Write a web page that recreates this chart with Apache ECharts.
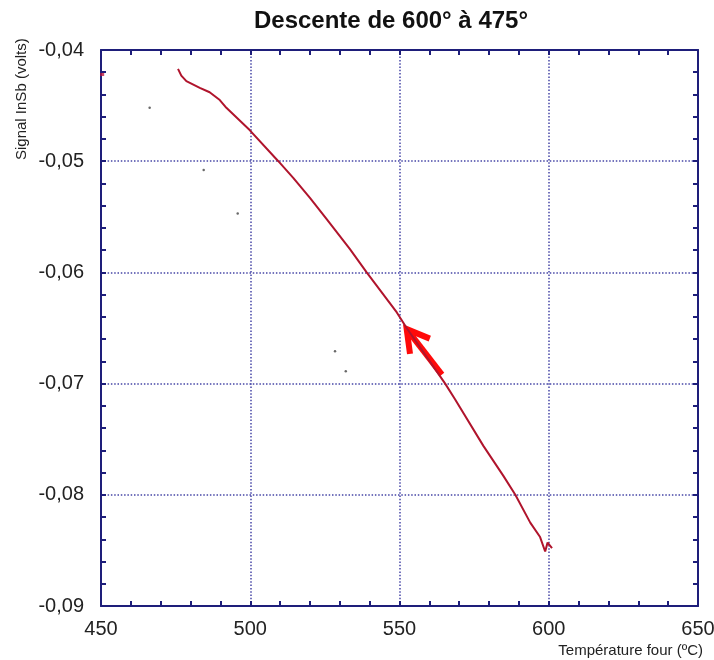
<!DOCTYPE html>
<html>
<head>
<meta charset="utf-8">
<script src="https://cdn.jsdelivr.net/npm/echarts@6/dist/echarts.min.js"></script>
<style>
  html, body { margin: 0; padding: 0; background: #ffffff; overflow: hidden; }
  #chart { width: 714px; height: 660px; }
</style>
</head>
<body>
<div id="chart"></div>
<script>
// Furnace temperature (°C) and InSb detector signal (V), cooldown from 600° to 475°
const temperature = [601.1, 599.6, 598.8, 597.1, 593.8, 588.8, 584.8, 578.1, 568.6, 565.3,
                     552.4, 549.1, 539.0, 533.4, 525.6, 520.0, 514.4, 509.4, 499.8, 492.0,
                     489.8, 486.4, 483.1, 478.6, 476.9, 475.8];
const signal = [-0.0848, -0.0843, -0.0851, -0.0838, -0.0825, -0.0800, -0.0783, -0.0756, -0.0714, -0.0700,
                -0.0650, -0.0636, -0.0600, -0.0579, -0.0552, -0.0533, -0.0515, -0.0500, -0.0472, -0.0452,
                -0.0445, -0.0438, -0.0434, -0.0428, -0.0423, -0.0417];

// isolated readings
const strayTemp = [466.3, 484.4, 495.8, 528.4, 532.0];
const straySignal = [-0.0452, -0.0508, -0.0547, -0.0671, -0.0689];
const edgeTemp = [450.4];
const edgeSignal = [-0.0422];

// annotation arrow (tail -> tip) in data units
const arrowTail = [564.2, -0.0692];
const arrowTip = [552.4, -0.0651];

// axis ranges and steps
const xRange = [450, 650];
const xStep = 50;
const yRange = [-0.09, -0.04];
const yStep = 0.01;

const titleText = 'Descente de 600° à 475°';
const xName = 'Température four (ºC)';
const yName = 'Signal InSb (volts)';

const NAVY = '#1e1e7a';
const GRIDC = '#4646a6';
const TXT = '#222222';
const FONT = "'Liberation Sans', Arial, sans-serif";

const zip = (a, b) => a.map((v, i) => [v, b[i]]);

const frameAxis = (extra) => Object.assign({
  type: 'value',
  gridIndex: 0,
  axisLine: { show: true, onZero: false, lineStyle: { color: NAVY, width: 2 } },
  axisTick: { show: true, inside: true, length: 5, lineStyle: { color: NAVY, width: 2 } },
  minorTick: { show: true, splitNumber: 5, length: 5, lineStyle: { color: NAVY, width: 2 } },
  minorSplitLine: { show: false }
}, extra);

const chart = echarts.init(document.getElementById('chart'), null, { renderer: 'canvas' });

chart.setOption({
  animation: false,
  backgroundColor: '#ffffff',
  grid: { left: 101, right: 16, top: 50, bottom: 54, containLabel: false, outerBoundsMode: 'none' },
  xAxis: [
    frameAxis({
      position: 'bottom', min: xRange[0], max: xRange[1], interval: xStep,
      splitLine: { show: true, lineStyle: { color: GRIDC, width: 1.5, type: [1.5, 1.8] } },
      axisLabel: { color: TXT, fontSize: 20, fontFamily: FONT, margin: 13 }
    }),
    frameAxis({
      position: 'top', min: xRange[0], max: xRange[1], interval: xStep,
      splitLine: { show: false }, axisLabel: { show: false }
    })
  ],
  yAxis: [
    frameAxis({
      position: 'left', min: yRange[0], max: yRange[1], interval: yStep,
      splitLine: { show: true, lineStyle: { color: GRIDC, width: 1.5, type: [1.5, 1.8] } },
      axisLabel: {
        color: TXT, fontSize: 20, fontFamily: FONT, margin: 17,
        formatter: (v) => v.toFixed(2).replace('.', ',')
      }
    }),
    frameAxis({
      position: 'right', min: yRange[0], max: yRange[1], interval: yStep,
      splitLine: { show: false }, axisLabel: { show: false }
    })
  ],
  graphic: [
    { type: 'text', x: 391, y: 9,
      style: { text: titleText, font: "bold 24px " + FONT, fill: '#111111', textAlign: 'center', textVerticalAlign: 'top' } },
    { type: 'text', x: 703, y: 643,
      style: { text: xName, font: "15px " + FONT, fill: TXT, textAlign: 'right', textVerticalAlign: 'top' } },
    { type: 'text', x: 14, y: 160, rotation: Math.PI / 2,
      style: { text: yName, font: "15px " + FONT, fill: TXT, textAlign: 'left', textVerticalAlign: 'top' } }
  ],
  series: [
    {
      type: 'line', xAxisIndex: 0, yAxisIndex: 0,
      data: zip(temperature, signal),
      showSymbol: false, symbol: 'none',
      lineStyle: { color: '#b0142c', width: 2 }
    },
    {
      type: 'scatter', xAxisIndex: 0, yAxisIndex: 0,
      data: zip(strayTemp, straySignal),
      symbolSize: 2.5, itemStyle: { color: '#444444' }
    },
    {
      type: 'scatter', xAxisIndex: 0, yAxisIndex: 0,
      data: zip(edgeTemp, edgeSignal),
      symbol: 'rect', symbolSize: [4, 3], itemStyle: { color: '#c0143c' }
    },
    {
      type: 'custom', xAxisIndex: 0, yAxisIndex: 0,
      data: [[arrowTip[0], arrowTip[1], arrowTail[0], arrowTail[1]]],
      encode: { x: [0, 2], y: [1, 3] },
      renderItem: (params, api) => {
        const tip = api.coord([api.value(0), api.value(1)]);
        const tail = api.coord([api.value(2), api.value(3)]);
        const ang = Math.atan2(tail[1] - tip[1], tail[0] - tip[0]);
        const len = 25, spread = Math.PI / 6;
        const a1 = [tip[0] + len * Math.cos(ang - spread), tip[1] + len * Math.sin(ang - spread)];
        const a2 = [tip[0] + len * Math.cos(ang + spread), tip[1] + len * Math.sin(ang + spread)];
        const st = { stroke: '#ff0a0a', lineWidth: 6, fill: null, lineJoin: 'miter', lineCap: 'butt' };
        return {
          type: 'group',
          children: [
            { type: 'line', shape: { x1: tail[0], y1: tail[1], x2: tip[0] + 2 * Math.cos(ang), y2: tip[1] + 2 * Math.sin(ang) }, style: st },
            { type: 'polyline', shape: { points: [a1, tip, a2] }, style: st }
          ]
        };
      }
    }
  ]
});
</script>
</body>
</html>
